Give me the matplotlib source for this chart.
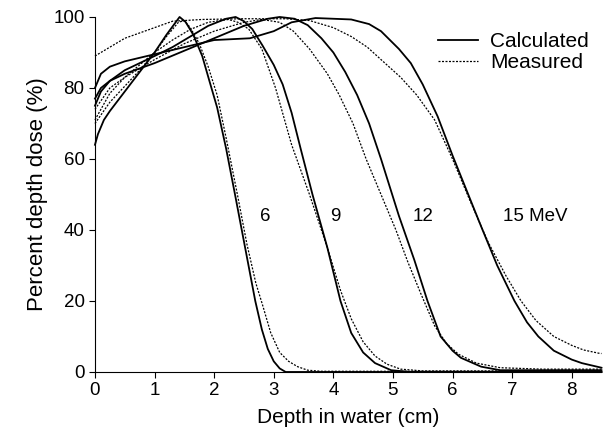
import matplotlib
matplotlib.use("Agg")
import matplotlib.pyplot as plt
import numpy as np

plt.rcParams['font.family'] = ['Liberation Sans', 'DejaVu Sans']

# depth (cm), dose (%)
calc_6_x = [0, 0.05, 0.15, 0.25, 0.5, 0.75, 1.0, 1.2, 1.42, 1.52, 1.65, 1.8, 1.92, 2.05, 2.2, 2.35, 2.52, 2.69, 2.8, 2.9, 3.0, 3.1, 3.2, 8.5]
calc_6_y = [64, 67, 71, 73.5, 79, 84.5, 90, 95, 100, 98.6, 95, 89, 82, 74.5, 63, 50, 35, 20, 12, 6.5, 3, 1, 0, 0]
meas_6_x = [0, 0.25, 0.5, 0.75, 1.0, 1.2, 1.4, 1.5, 1.6, 1.75, 1.9, 2.05, 2.2, 2.39, 2.55, 2.7, 2.81, 2.95, 3.1, 3.25, 3.4, 3.57, 3.8, 8.5]
meas_6_y = [70, 76, 80.5, 85, 90, 94.5, 98.5, 99, 97, 92.5, 86, 78, 66, 50, 36, 25, 19, 11, 5.5, 3, 1.5, 0.5, 0.2, 0.2]

calc_9_x = [0, 0.1, 0.25, 0.5, 0.75, 1.0, 1.3, 1.6, 1.9, 2.2, 2.36, 2.5, 2.64, 2.81, 3.0, 3.15, 3.3, 3.45, 3.65, 3.9, 4.12, 4.3, 4.5, 4.7, 4.97, 5.3, 8.5]
calc_9_y = [75, 79, 82, 85, 87, 89, 91.5, 94.5, 97.5, 99.5, 100, 98.8, 96.6, 92, 86.5, 81, 73, 63, 50, 35, 20, 11, 5.5, 2.5, 0.5, 0, 0]
meas_9_x = [0, 0.25, 0.5, 0.75, 1.0, 1.3, 1.6, 1.9, 2.24, 2.4, 2.58, 2.8, 3.03, 3.3, 3.6, 3.9, 4.12, 4.3, 4.5, 4.7, 4.9, 5.13, 5.5, 8.5]
meas_9_y = [71, 78.5, 83, 86.5, 90, 93.5, 96.5, 98.5, 99.3, 98.5, 96.6, 91, 80, 64, 50, 35, 23, 15, 8.5, 4.5, 2.2, 0.8, 0.3, 0.3]

calc_12_x = [0, 0.1, 0.25, 0.5, 1.0, 1.5, 2.0, 2.5, 2.9, 3.1, 3.35, 3.57, 3.8, 4.0, 4.2, 4.4, 4.6, 4.8, 4.95, 5.1, 5.36, 5.58, 5.8, 6.0, 6.14, 6.48, 6.8, 8.5]
calc_12_y = [77, 80, 82, 84, 87, 90.5, 94, 97.5, 99.5, 100, 99.5, 97.7, 94, 90, 84.5, 78, 70, 60, 52, 44, 31.5, 20, 10, 6, 4, 1.5, 0.5, 0.5]
meas_12_x = [0, 0.25, 0.5, 1.0, 1.5, 2.0, 2.5, 2.8, 3.1, 3.33, 3.6, 3.9, 4.1, 4.33, 4.55, 4.8, 5.05, 5.25, 5.47, 5.7, 5.9, 6.1, 6.4, 6.8, 7.5, 8.5]
meas_12_y = [74, 80, 83, 88, 92.5, 96, 98.5, 99.3, 98.5, 96, 91, 84, 78, 70, 60, 50, 40, 31, 22, 13, 8, 5, 2.5, 1.2, 0.8, 0.8]

calc_15_x = [0, 0.1, 0.25, 0.5, 1.0, 1.5, 2.0, 2.6, 3.0, 3.3, 3.7, 4.3, 4.6, 4.8, 5.1, 5.3, 5.5, 5.75, 6.0, 6.48, 6.75, 7.04, 7.25, 7.44, 7.7, 8.0, 8.17, 8.5]
calc_15_y = [80, 84, 86, 87.5, 89.5, 91.5, 93.5, 94, 96, 98.5, 99.7, 99.3, 98, 96, 91, 87, 81, 72, 61, 41, 30, 20, 14, 10, 6, 3.5, 2.5, 1.2]
meas_15_x = [0, 0.1, 0.25, 0.5, 0.75, 1.0, 1.3, 1.8, 2.5, 3.2, 3.6, 4.0, 4.3, 4.57, 4.8, 5.13, 5.4, 5.7, 6.0, 6.3, 6.6, 6.9, 7.15, 7.4, 7.7, 8.0, 8.2, 8.45, 8.5]
meas_15_y = [89, 90, 91.5, 94, 95.5, 97, 98.8, 99.3, 99.5, 99.5, 99, 97, 94.5, 91.5, 88, 83, 78, 71, 60, 48, 36.5, 27, 20, 14.5, 10, 7.5, 6.2, 5.3, 5.2]

energy_labels = ['6', '9', '12', '15 MeV']
label_x = [2.86, 4.04, 5.5, 7.38]
label_y = 43.7

fig = plt.figure(figsize=(6.03, 4.41), dpi=100)
ax = fig.add_axes([0.1575, 0.1565, 0.84, 0.805])

solid = dict(color='black', lw=1.3, clip_on=False, solid_joinstyle='round')
dotted = dict(color='black', lw=0.9, ls=(0, (1.6, 1.2)), clip_on=False)

ax.plot(calc_6_x, calc_6_y, label='Calculated', **solid)
ax.plot(meas_6_x, meas_6_y, label='Measured', **dotted)
ax.plot(calc_9_x, calc_9_y, **solid)
ax.plot(meas_9_x, meas_9_y, **dotted)
ax.plot(calc_12_x, calc_12_y, **solid)
ax.plot(meas_12_x, meas_12_y, **dotted)
ax.plot(calc_15_x, calc_15_y, **solid)
ax.plot(meas_15_x, meas_15_y, **dotted)

for t, x in zip(energy_labels, label_x):
    ax.text(x, label_y, t, ha='center', va='center', fontsize=13.5)

ax.set_xlim(0, 8.5)
ax.set_ylim(0, 100)
ax.set_xticks(range(0, 9))
ax.set_yticks(range(0, 101, 20))
ax.spines['top'].set_visible(False)
ax.spines['right'].set_visible(False)
ax.tick_params(direction='out', length=4, labelsize=13.5)
ax.set_xlabel('Depth in water (cm)', fontsize=15, labelpad=6)
ax.set_ylabel('Percent depth dose (%)', fontsize=16, labelpad=4)

ax.legend(loc='upper right', bbox_to_anchor=(1.012, 1.01), frameon=False, fontsize=15,
          handlelength=1.9, handletextpad=0.6, labelspacing=0.1)

fig.savefig('out.png', dpi=100)
